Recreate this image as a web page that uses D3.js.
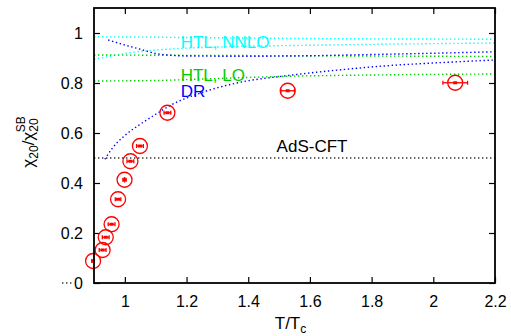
<!DOCTYPE html>
<html>
<head>
<meta charset="utf-8">
<script src="https://cdn.jsdelivr.net/npm/d3@7"></script>
<style>
  body { margin: 0; background: #fff; }
  svg { display: block; font-family: "Liberation Sans", Arial, sans-serif; }
</style>
</head>
<body>
<div id="chart"></div>
<script>
// lattice points: T/Tc, chi20/chi20^SB, errors
const pointT   = [0.897, 0.928, 0.938, 0.957, 0.978, 0.999, 1.018, 1.049, 1.138, 1.528, 2.071];
const pointChi = [0.088, 0.132, 0.183, 0.235, 0.335, 0.413, 0.487, 0.548, 0.681, 0.769, 0.801];
const pointDT  = [0.004, 0.011, 0.011, 0.011, 0.009, 0.005, 0.011, 0.011, 0.011, 0.022, 0.040];
const pointDC  = [0.006, 0.003, 0.003, 0.003, 0.003, 0.011, 0.003, 0.003, 0.003, 0.003, 0.003];

// model curves
const nnloUpperT = [0.9, 1.2, 1.6, 2.2];
const nnloUpperY = [0.985, 0.982, 0.978, 0.975];
const nnloLowerT = [0.9, 0.95, 1.0, 1.05, 1.15, 1.3, 1.6, 1.9, 2.2];
const nnloLowerY = [0.895, 0.906, 0.918, 0.926, 0.936, 0.944, 0.951, 0.956, 0.960];
const loUpperT = [0.9, 2.2];
const loUpperY = [0.912, 0.906];
const loLowerT = [0.9, 1.1, 1.3, 1.5, 1.8, 2.2];
const loLowerY = [0.808, 0.810, 0.818, 0.826, 0.832, 0.836];
const drUpperT = [0.946, 1.0, 1.05, 1.1, 1.15, 1.2, 1.4, 1.6, 1.8, 2.0, 2.2];
const drUpperY = [0.972, 0.952, 0.935, 0.918, 0.911, 0.908, 0.907, 0.909, 0.914, 0.919, 0.925];
const drLowerT = [0.935, 0.96, 1.0, 1.05, 1.1, 1.15, 1.25, 1.37, 1.53, 1.7, 1.86, 2.0, 2.2];
const drLowerY = [0.495, 0.54, 0.59, 0.635, 0.675, 0.712, 0.762, 0.802, 0.830, 0.853, 0.870, 0.880, 0.892];
const adsT = [0.9, 2.2];
const adsY = [0.5, 0.5];

const xTicks = [1, 1.2, 1.4, 1.6, 1.8, 2, 2.2];
const yTicks = [0, 0.2, 0.4, 0.6, 0.8, 1];

const width = 511, height = 336;
const margin = { top: 8, right: 16, bottom: 53, left: 94 };

const svg = d3.select("#chart").append("svg")
    .attr("width", width)
    .attr("height", height);

const x = d3.scaleLinear().domain([0.9, 2.2]).range([margin.left, width - margin.right]);
const y = d3.scaleLinear().domain([0, 1.1]).range([height - margin.bottom, margin.top]);

const fmt = d => d3.format("")(+d.toFixed(1));

// axes with inward ticks on all four sides
svg.append("g")
    .attr("transform", `translate(0,${y(0)})`)
    .call(d3.axisBottom(x).tickValues(xTicks).tickFormat(fmt).tickSizeInner(-6).tickSizeOuter(0).tickPadding(13))
    .call(g => g.select(".domain").remove());
svg.append("g")
    .attr("transform", `translate(0,${y(1.1)})`)
    .call(d3.axisTop(x).tickValues(xTicks).tickFormat("").tickSizeInner(-6).tickSizeOuter(0))
    .call(g => g.select(".domain").remove());
svg.append("g")
    .attr("transform", `translate(${x(0.9)},0)`)
    .call(d3.axisLeft(y).tickValues(yTicks).tickFormat(fmt).tickSizeInner(-6).tickSizeOuter(0).tickPadding(11))
    .call(g => g.select(".domain").remove());
svg.append("g")
    .attr("transform", `translate(${x(2.2)},0)`)
    .call(d3.axisRight(y).tickValues(yTicks).tickFormat("").tickSizeInner(-6).tickSizeOuter(0))
    .call(g => g.select(".domain").remove());

svg.selectAll(".tick text").attr("font-size", 16).attr("fill", "#000");
svg.selectAll(".tick line").attr("stroke", "#000").attr("stroke-width", 1.2);

// curves
const line = d3.line().x(d => x(d[0])).y(d => y(d[1])).curve(d3.curveMonotoneX);
const curves = [
    { t: nnloUpperT, v: nnloUpperY, color: "#00ffff" },
    { t: nnloLowerT, v: nnloLowerY, color: "#00ffff" },
    { t: loUpperT, v: loUpperY, color: "#00cc00" },
    { t: loLowerT, v: loLowerY, color: "#00cc00" },
    { t: drUpperT, v: drUpperY, color: "#0000ff" },
    { t: drLowerT, v: drLowerY, color: "#0000ff" },
    { t: adsT, v: adsY, color: "#333333" }
];
curves.forEach(c => {
    svg.append("path")
        .datum(c.t.map((t, i) => [t, c.v[i]]))
        .attr("d", line)
        .attr("fill", "none")
        .attr("stroke", c.color)
        .attr("stroke-width", 1.4)
        .attr("stroke-dasharray", "1.4,2.6");
});

// little dotted stub left of the "0" label
svg.append("line")
    .attr("x1", x(0.9) - 32).attr("x2", x(0.9) - 20)
    .attr("y1", y(0)).attr("y2", y(0))
    .attr("stroke", "#333").attr("stroke-width", 1.4).attr("stroke-dasharray", "1.4,2.6");

// curve labels
const labels = [
    { text: "HTL, NNLO", t: 1.181, v: 0.94, color: "#00ffff" },
    { text: "HTL, LO", t: 1.181, v: 0.81, color: "#00cc00" },
    { text: "DR", t: 1.181, v: 0.746, color: "#0000ff" },
    { text: "AdS-CFT", t: 1.492, v: 0.524, color: "#000" }
];
svg.selectAll(".lbl").data(labels).enter().append("text")
    .attr("x", d => x(d.t)).attr("y", d => y(d.v))
    .attr("font-size", 17)
    .attr("fill", d => d.color)
    .text(d => d.text);

// data points
const pts = pointT.map((t, i) => ({ t, v: pointChi[i], dt: pointDT[i], dv: pointDC[i] }));
const pg = svg.append("g").attr("stroke", "#ff0000").attr("fill", "none");
pts.forEach(d => {
    const cx = x(d.t), cy = y(d.v);
    pg.append("line").attr("x1", x(d.t - d.dt)).attr("x2", x(d.t + d.dt)).attr("y1", cy).attr("y2", cy).attr("stroke-width", 1.3);
    pg.append("line").attr("x1", x(d.t - d.dt)).attr("x2", x(d.t - d.dt)).attr("y1", cy - 2).attr("y2", cy + 2).attr("stroke-width", 1.3);
    pg.append("line").attr("x1", x(d.t + d.dt)).attr("x2", x(d.t + d.dt)).attr("y1", cy - 2).attr("y2", cy + 2).attr("stroke-width", 1.3);
    pg.append("line").attr("x1", cx).attr("x2", cx).attr("y1", y(d.v - d.dv)).attr("y2", y(d.v + d.dv)).attr("stroke-width", 1.3);
    pg.append("rect").attr("x", cx - 2).attr("y", cy - 1.5).attr("width", 4).attr("height", 3).attr("fill", "#ff0000").attr("stroke", "none");
    pg.append("circle").attr("cx", cx).attr("cy", cy).attr("r", 7.5).attr("stroke-width", 1.3);
});

// frame
svg.append("rect")
    .attr("x", x(0.9)).attr("y", y(1.1))
    .attr("width", x(2.2) - x(0.9)).attr("height", y(0) - y(1.1))
    .attr("fill", "none").attr("stroke", "#000").attr("stroke-width", 1.8);

// axis titles
svg.append("text")
    .attr("x", (x(0.9) + x(2.2)) / 2 - 4).attr("y", 329)
    .attr("text-anchor", "middle").attr("font-size", 17)
    .call(t => {
        t.append("tspan").text("T/T");
        t.append("tspan").attr("font-size", 12).attr("dy", 4).text("c");
    });

svg.append("text")
    .attr("transform", `translate(34,${142}) rotate(-90)`)
    .attr("text-anchor", "middle").attr("font-size", 17)
    .call(t => {
        t.append("tspan").text("χ");
        t.append("tspan").attr("font-size", 12).attr("dy", 4).text("20");
        t.append("tspan").attr("dy", -4).text("/χ");
        t.append("tspan").attr("font-size", 12).attr("dy", 4).text("20");
        t.append("tspan").attr("font-size", 12).attr("dx", -14).attr("dy", -13).text("SB");
    });
</script>
</body>
</html>
